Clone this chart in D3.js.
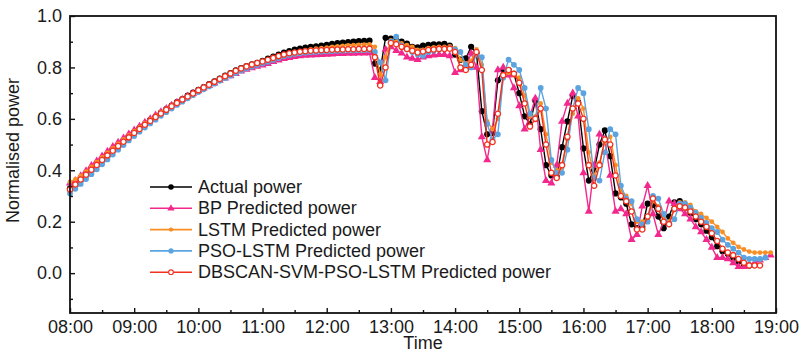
<!DOCTYPE html>
<html>
<head>
<meta charset="utf-8">
<script src="https://cdn.jsdelivr.net/npm/d3@7"></script>
<style>
  body { margin: 0; background: #fff; }
  text { font-family: "Liberation Sans", Arial, sans-serif; }
</style>
</head>
<body>
<div id="chart"></div>
<script>
// time axis: one reading every 5 minutes from 08:00
var startHour = 8;
var stepMinutes = 5;
var hourLabels = ["08:00","09:00","10:00","11:00","12:00","13:00","14:00","15:00","16:00","17:00","18:00","19:00"];
var yTickValues = [0.0, 0.2, 0.4, 0.6, 0.8, 1.0];

var actualPower = [0.330,0.348,0.368,0.387,0.405,0.425,0.443,0.462,0.480,0.498,
0.515,0.532,0.548,0.565,0.580,0.596,0.610,0.624,0.638,0.652,
0.665,0.677,0.690,0.702,0.713,0.724,0.735,0.746,0.757,0.768,
0.778,0.789,0.797,0.805,0.812,0.818,0.826,0.834,0.842,0.850,
0.858,0.864,0.869,0.873,0.877,0.880,0.882,0.885,0.888,0.892,
0.895,0.897,0.899,0.900,0.902,0.903,0.904,0.815,0.790,0.915,
0.912,0.905,0.900,0.893,0.880,0.878,0.885,0.888,0.890,0.890,
0.892,0.885,0.850,0.830,0.835,0.880,0.855,0.630,0.540,0.545,
0.750,0.790,0.790,0.775,0.700,0.610,0.580,0.670,0.560,0.420,
0.380,0.375,0.490,0.590,0.690,0.665,0.485,0.360,0.400,0.500,
0.555,0.455,0.310,0.295,0.270,0.190,0.175,0.180,0.270,0.265,
0.220,0.175,0.220,0.275,0.280,0.255,0.235,0.210,0.190,0.165,
0.140,0.105,0.085,0.074,0.060,0.045,0.028,0.030];

var bpPower = [0.350,0.360,0.378,0.398,0.418,0.436,0.455,0.473,0.492,0.508,
0.525,0.541,0.556,0.571,0.586,0.600,0.614,0.627,0.640,0.652,
0.664,0.676,0.687,0.698,0.709,0.719,0.729,0.739,0.749,0.758,
0.767,0.776,0.785,0.792,0.798,0.804,0.809,0.815,0.822,0.828,
0.834,0.838,0.842,0.845,0.847,0.848,0.849,0.850,0.851,0.852,
0.853,0.853,0.854,0.854,0.855,0.855,0.856,0.760,0.745,0.870,
0.880,0.865,0.855,0.840,0.835,0.830,0.840,0.845,0.848,0.850,
0.850,0.845,0.780,0.790,0.800,0.855,0.800,0.530,0.440,0.560,
0.790,0.800,0.770,0.720,0.650,0.560,0.610,0.680,0.480,0.360,
0.350,0.420,0.590,0.660,0.700,0.610,0.390,0.240,0.420,0.540,
0.520,0.380,0.240,0.250,0.230,0.130,0.150,0.260,0.340,0.230,
0.150,0.200,0.280,0.270,0.250,0.230,0.210,0.180,0.160,0.130,
0.100,0.060,0.060,0.055,0.040,0.025,0.025,0.030,0.040,0.050,
0.060,0.070];

var lstmPower = [0.355,0.365,0.378,0.395,0.413,0.432,0.450,0.468,0.486,0.503,
0.520,0.536,0.552,0.568,0.583,0.598,0.612,0.626,0.639,0.652,
0.664,0.676,0.688,0.699,0.710,0.720,0.731,0.741,0.751,0.761,
0.771,0.781,0.790,0.798,0.805,0.811,0.817,0.824,0.831,0.839,
0.846,0.852,0.858,0.863,0.867,0.870,0.873,0.875,0.877,0.880,
0.882,0.884,0.886,0.887,0.888,0.889,0.890,0.880,0.770,0.840,
0.905,0.900,0.893,0.887,0.880,0.868,0.868,0.875,0.878,0.880,
0.880,0.882,0.875,0.830,0.815,0.825,0.870,0.810,0.590,0.560,
0.600,0.760,0.780,0.770,0.760,0.690,0.610,0.610,0.660,0.540,
0.430,0.400,0.410,0.520,0.620,0.680,0.640,0.470,0.380,0.430,
0.510,0.530,0.420,0.320,0.300,0.270,0.200,0.200,0.210,0.280,
0.260,0.220,0.200,0.250,0.275,0.275,0.265,0.240,0.230,0.215,
0.200,0.180,0.160,0.135,0.118,0.102,0.092,0.084,0.080,0.080,
0.080,0.080];

var psoLstmPower = [0.310,0.328,0.347,0.366,0.385,0.404,0.423,0.442,0.461,0.480,
0.498,0.516,0.533,0.550,0.566,0.582,0.597,0.612,0.626,0.640,
0.654,0.667,0.680,0.692,0.704,0.715,0.726,0.737,0.748,0.758,
0.768,0.778,0.788,0.796,0.803,0.809,0.815,0.822,0.829,0.836,
0.843,0.848,0.852,0.855,0.857,0.859,0.860,0.861,0.862,0.863,
0.864,0.865,0.866,0.866,0.867,0.867,0.868,0.860,0.820,0.750,
0.900,0.920,0.885,0.870,0.860,0.850,0.845,0.860,0.865,0.870,
0.872,0.875,0.870,0.860,0.810,0.800,0.850,0.840,0.580,0.520,
0.540,0.760,0.830,0.810,0.790,0.720,0.620,0.600,0.720,0.640,
0.440,0.390,0.390,0.480,0.640,0.720,0.700,0.560,0.370,0.360,
0.470,0.560,0.540,0.340,0.290,0.280,0.210,0.190,0.200,0.300,
0.290,0.230,0.190,0.210,0.270,0.270,0.255,0.235,0.215,0.195,
0.175,0.160,0.130,0.110,0.095,0.080,0.060,0.055,0.055,0.055,
0.060];

var dbscanPower = [0.325,0.345,0.364,0.383,0.402,0.421,0.440,0.458,0.476,0.494,
0.511,0.528,0.545,0.561,0.577,0.592,0.607,0.621,0.635,0.649,
0.662,0.675,0.687,0.699,0.711,0.722,0.733,0.744,0.755,0.766,
0.776,0.787,0.796,0.804,0.811,0.817,0.823,0.830,0.837,0.844,
0.850,0.855,0.858,0.861,0.863,0.865,0.866,0.867,0.868,0.869,
0.870,0.870,0.871,0.871,0.872,0.872,0.873,0.840,0.730,0.800,
0.895,0.890,0.880,0.872,0.865,0.858,0.862,0.868,0.870,0.872,
0.872,0.873,0.860,0.800,0.790,0.810,0.860,0.790,0.500,0.510,
0.620,0.770,0.790,0.775,0.740,0.660,0.570,0.600,0.640,0.500,
0.390,0.370,0.420,0.530,0.640,0.660,0.600,0.420,0.340,0.420,
0.520,0.500,0.380,0.300,0.280,0.240,0.170,0.170,0.220,0.290,
0.250,0.200,0.190,0.250,0.260,0.255,0.240,0.220,0.200,0.180,
0.155,0.125,0.095,0.080,0.070,0.055,0.040,0.030,0.030,0.030];

var seriesNames = ["Actual power", "BP Predicted power", "LSTM Predicted power",
  "PSO-LSTM Predicted power", "DBSCAN-SVM-PSO-LSTM Predicted power"];
var seriesValues = [actualPower, bpPower, lstmPower, psoLstmPower, dbscanPower];

var colors = ["#000000", "#f2288c", "#f98e25", "#5ba4e0", "#f2301e"];
var symbols = [d3.symbolCircle, d3.symbolTriangle, d3.symbolCircle, d3.symbolCircle, d3.symbolCircle];
var symbolSizes = [30, 28, 18, 26, 22];
var hollow = [false, false, false, false, true];

var margin = { top: 16, right: 31, bottom: 39, left: 70 };
var width = 807 - margin.left - margin.right;
var height = 352 - margin.top - margin.bottom;

function timeAt(i) {
  return new Date(2020, 0, 1, startHour, i * stepMinutes);
}

var xScale = d3.scaleTime()
  .domain([new Date(2020, 0, 1, 8, 0), new Date(2020, 0, 1, 19, 0)])
  .range([0, width]);
var yScale = d3.scaleLinear().domain([-0.155, 1.0]).range([height, 0]);

var svg = d3.select("#chart").append("svg")
  .attr("width", width + margin.left + margin.right)
  .attr("height", height + margin.top + margin.bottom)
  .append("g").attr("transform", `translate(${margin.left},${margin.top})`);

var line = d3.line()
  .x((d, i) => xScale(timeAt(i)))
  .y(d => yScale(d));

var lines = svg.append("g").attr("class", "lines");
seriesValues.forEach(function (vals, s) {
  var g = lines.append("g");
  g.append("path")
    .attr("d", line(vals))
    .attr("fill", "none")
    .attr("stroke", colors[s])
    .attr("stroke-width", 1.4);
  g.selectAll("path.marker")
    .data(vals)
    .enter()
    .append("path")
    .attr("class", "marker")
    .attr("transform", (d, i) => `translate(${xScale(timeAt(i))},${yScale(d)})`)
    .attr("d", d3.symbol().type(symbols[s]).size(symbolSizes[s]))
    .attr("fill", hollow[s] ? "#fff" : colors[s])
    .attr("stroke", hollow[s] ? colors[s] : "none")
    .attr("stroke-width", 1.3);
});

// axes
var hourTicks = hourLabels.map((d, i) => new Date(2020, 0, 1, 8 + i, 0));
var halfTicks = hourTicks.slice(0, -1).map(d => new Date(d.getTime() + 30 * 60000));

svg.append("g")
  .attr("transform", "translate(0," + height + ")")
  .call(d3.axisBottom(xScale).tickValues(hourTicks).tickSize(-5).tickPadding(7)
    .tickFormat((d, i) => hourLabels[i]));
svg.append("g")
  .attr("transform", "translate(0," + height + ")")
  .call(d3.axisBottom(xScale).tickValues(halfTicks).tickSize(-3).tickFormat(""));

svg.append("g")
  .call(d3.axisLeft(yScale).tickValues(yTickValues).tickSize(-5).tickPadding(8)
    .tickFormat(d3.format(".1f")));
svg.append("g")
  .call(d3.axisLeft(yScale).tickValues([-0.1, 0.1, 0.3, 0.5, 0.7, 0.9]).tickSize(-3).tickFormat(""));

svg.selectAll(".domain").remove();
svg.selectAll(".tick line").attr("stroke", "#111").attr("stroke-width", 1.4);
svg.selectAll(".tick text")
  .attr("font-size", 18)
  .attr("fill", "#1a1a1a")
  .attr("font-family", "Liberation Sans, Arial, sans-serif");

svg.append("rect")
  .attr("width", width).attr("height", height)
  .attr("fill", "none").attr("stroke", "#111").attr("stroke-width", 1.8);

// axis titles
svg.append("text")
  .attr("x", width / 2).attr("y", height + 36)
  .attr("text-anchor", "middle")
  .attr("font-size", 18).attr("fill", "#1a1a1a")
  .text("Time");
svg.append("text")
  .attr("transform", `translate(${-51},${height / 2 - 14}) rotate(-90)`)
  .attr("text-anchor", "middle")
  .attr("font-size", 18).attr("fill", "#1a1a1a")
  .text("Normalised power");

// legend
var legend = svg.append("g").attr("transform", "translate(80,171)");
var rowH = 21.3;
legend.selectAll("line")
  .data(seriesNames)
  .enter()
  .append("line")
  .attr("x1", 0).attr("x2", 42)
  .attr("y1", (d, i) => i * rowH).attr("y2", (d, i) => i * rowH)
  .attr("stroke", (d, i) => colors[i])
  .attr("stroke-width", 1.6);
legend.selectAll("path")
  .data(seriesNames)
  .enter()
  .append("path")
  .attr("transform", (d, i) => `translate(21,${i * rowH})`)
  .attr("d", (d, i) => d3.symbol().type(symbols[i]).size(symbolSizes[i] * 0.8)())
  .attr("fill", (d, i) => hollow[i] ? "#fff" : colors[i])
  .attr("stroke", (d, i) => hollow[i] ? colors[i] : "none")
  .attr("stroke-width", 1.1);
legend.selectAll("text")
  .data(seriesNames)
  .enter()
  .append("text")
  .attr("x", 48)
  .attr("y", (d, i) => i * rowH + 6)
  .attr("font-size", 18)
  .attr("fill", "#1a1a1a")
  .text(d => d);
</script>
</body>
</html>
